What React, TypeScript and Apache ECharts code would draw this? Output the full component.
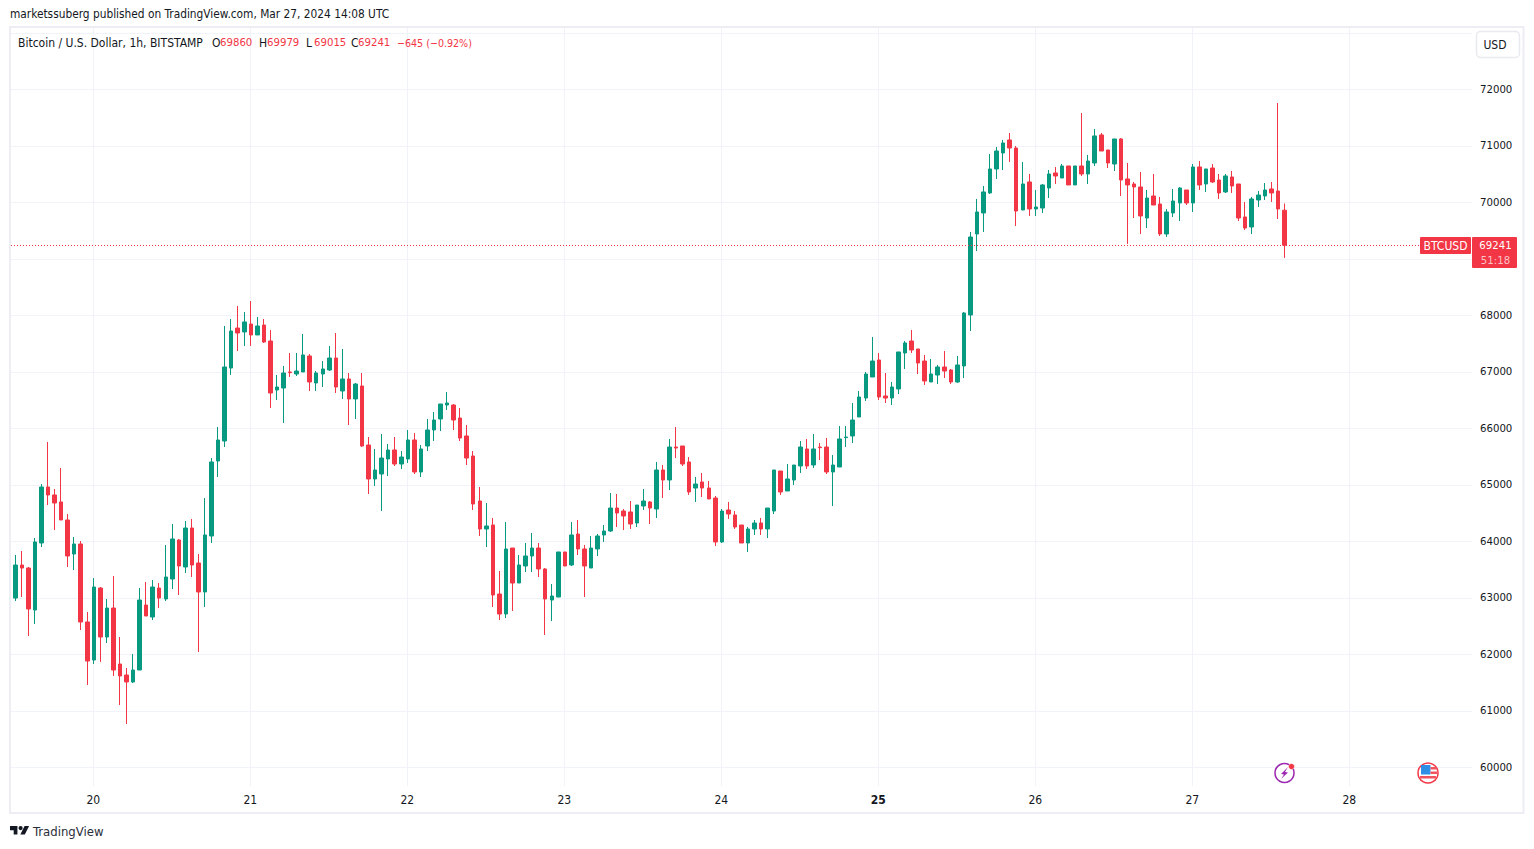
import React, { useEffect, useRef } from "react";
import * as echarts from "echarts";

// each candle: [open, close, low, high]
const mar19 = [
  [63209,62990,62990,63209],[62996,63580,62943,63757],[63580,63527,63014,63828],[63527,62802,62324,63545],
  [62784,63988,62536,64058],[63970,64961,63899,65014],[64961,64820,64642,65758],[64820,64678,64200,64926],
  [64696,64377,64377,65297],[64377,63740,63545,64483],[63775,63952,63492,64076],[63952,62572,62430,64005],
  [62572,61881,61457,62749],
];
const mar20 = [
  [61899,63191,61828,63350],[63173,62306,61864,63191],[62306,62819,62200,62979],[62819,61722,61616,63386],
  [61828,61616,61102,62306],[61633,61510,60766,61757],[61510,61722,61492,62005],[61722,62961,61722,63173],
  [62872,62678,62678,63280],[62660,63191,62607,63315],[63173,62996,62819,63262],[62979,63368,62943,63934],
  [63333,64041,63156,64306],[64023,63563,63050,64041],[63545,64235,63439,64359],[64235,63580,63368,64395],
  [63616,63103,62041,63775],[63103,64112,62837,64766],[64094,65404,63970,65474],[65421,65793,65138,66023],
  [65775,67085,65669,67811],[67067,67722,66944,67935],[67775,67687,67368,68165],[67705,67882,67457,68059],
];
const mar21 = [
  [67846,67652,67457,68253],[67652,67811,67652,67970],[67828,67528,67510,67935],[67545,66625,66359,67740],
  [66678,66731,66501,66943],[66713,66979,66094,67103],[66997,66985,66908,67333],[66961,67014,66926,67333],
  [66997,67298,66997,67669],[67280,66820,66660,67315],[66802,66979,66660,67014],[66961,67050,66731,67191],
  [67032,67244,67014,67457],[67244,66731,66625,67687],[66660,66873,66519,67404],[66873,66519,66058,66979],
  [66519,66784,66165,66802],[66749,65687,65669,66979],[65704,65103,64837,65846],[65103,65262,64979,65634],
  [65191,65474,64536,65899],[65457,65616,65156,65722],[65616,65368,65333,65846],[65368,65492,65280,65598],
];
const mar22 = [
  [65457,65793,65386,65970],[65793,65227,65191,65917],[65227,65634,65138,65704],[65687,65970,65598,66165],
  [65970,66147,65775,66289],[66165,66430,65952,66430],[66412,66448,66324,66643],[66412,66147,65970,66430],
  [66182,65828,65775,66359],[65864,65474,65350,66058],[65510,64660,64554,65598],[64713,64218,64094,64961],
  [64218,64271,63899,64678],[64288,63050,62837,64412],[63067,62713,62607,63474],[62713,63864,62642,64342],
  [63881,63262,62766,63881],[63262,63581,63262,63757],[63563,63740,63457,63970],[63740,63881,63457,64147],
  [63881,63510,63368,63970],[63510,62979,62342,63527],[62961,63032,62589,63244],[63014,63811,63014,63811],
];
const mar23 = [
  [63811,63563,63563,63811],[63581,64112,63563,64342],[64129,63864,63757,64377],[63864,63563,63014,63935],
  [63527,63881,63527,64094],[63864,64094,63740,64129],[64112,64182,63988,64288],[64182,64589,64165,64855],
  [64589,64501,64253,64837],[64536,64448,64200,64572],[64519,64306,64218,64713],[64324,64642,64253,64642],
  [64625,64713,64554,64926],[64696,64589,64306,64713],[64572,65262,64412,65404],[65262,65085,64766,65350],
  [65085,65669,64908,65811],[65669,65651,65474,66023],[65687,65368,65333,65687],[65404,64873,64820,65492],
  [64943,65014,64696,65138],[65050,64943,64784,65209],[64943,64749,64749,65067],[64766,63988,63917,64802],
];
const mar24 = [
  [63988,64536,63970,64572],[64554,64483,64395,64696],[64466,64253,64218,64536],[64288,63970,63970,64288],
  [63970,64218,63811,64253],[64218,64324,64111,64377],[64324,64218,64111,64412],[64218,64589,64058,64589],
  [64536,65262,64483,65262],[65244,64873,64820,65244],[64890,65103,64890,65368],[65085,65350,64997,65350],
  [65333,65669,65209,65775],[65634,65333,65280,65811],[65350,65634,65297,65899],[65669,65657,65439,65740],
  [65669,65227,65191,65828],[65227,65350,64625,65527],[65315,65811,65315,66041],[65835,65846,65669,66041],
  [65864,66147,65740,66448],[66200,66554,66200,66660],[66536,66961,66483,66997],[66908,67191,66908,67616],
];
const mar25 = [
  [67209,66554,66501,67333],[66572,66536,66448,66979],[66536,66731,66412,66820],[66696,67351,66607,67351],
  [67333,67510,67050,67545],[67545,67386,67333,67740],[67404,67156,66961,67404],[67191,66837,66767,67298],
  [66820,66961,66820,67227],[66943,67085,66784,67121],[67085,67014,66890,67368],[67032,66820,66784,67050],
  [66820,67121,66802,67280],[67103,68041,66890,68059],[68006,69386,67722,69475],[69439,69829,69138,70059],
  [69811,70183,69475,70289],[70165,70590,70147,70855],[70590,70908,70413,70979],[70873,71050,70572,71103],
  [71103,70961,70714,71227],[70961,69846,69581,70997],[69864,70324,69864,70714],[70360,69882,69758,70501],
];
const mar26 = [
  [69882,69917,69758,70218],[69899,70307,69811,70324],[70253,70501,70076,70572],[70519,70466,70324,70625],
  [70430,70643,70430,70678],[70643,70307,70307,70643],[70307,70643,70307,70643],[70643,70501,70466,71581],
  [70501,70731,70324,70838],[70696,71174,70643,71298],[71192,70908,70908,71227],[70926,70696,70607,70926],
  [70678,71121,70554,71121],[71121,70395,70112,71138],[70413,70307,69262,70696],[70324,70271,69722,70360],
  [70271,69758,69439,70537],[69722,70076,69545,70218],[70112,69952,69952,70501],[69970,69439,69404,70094],
  [69439,69829,69386,69882],[69811,70023,69740,70236],[69988,70253,69669,70271],[70218,69988,69952,70218],
];
const mar27 = [
  [69988,70625,69829,70678],[70625,70307,70218,70731],[70324,70590,70183,70590],[70607,70360,70342,70678],
  [70395,70165,70059,70501],[70183,70466,70165,70501],[70448,70289,70165,70554],[70324,69722,69669,70324],
  [69740,69545,69510,70006],[69563,70059,69439,70094],[70041,70129,69917,70200],[70112,70218,70041,70342],
  [70236,70165,70006,70360],[70200,69882,69705,71758],[69860,69241,69015,69979],
];

const dayLabels = ["20", "21", "22", "23", "24", "25", "26", "27", "28"];
const dayTicks = [0, 24, 48, 72, 96, 120, 144, 168, 192];
const priceTicks = [60000,61000,62000,63000,64000,65000,66000,67000,68000,69000,70000,71000,72000,73000];
const lastPrice = 69241;
const firstDayCandles = mar19.length;
const candleOffset = 0.08;

const UP = "#089981";
const DOWN = "#F23645";
const INK = "#131722";
const FONT = "'DejaVu Sans Condensed', 'Noto Sans', sans-serif";
const NUM = 11.3;

const candles = [...mar19, ...mar20, ...mar21, ...mar22, ...mar23, ...mar24, ...mar25, ...mar26, ...mar27].map(
  (c, i) => [i - firstDayCandles + candleOffset, ...c]
);

echarts.graphic.registerShape(
  "tvlogo",
  echarts.graphic.extendPath("M14 6H0v8h7v8h7V6Zm14 16h-8.5l8-16H36l-8 16ZM24 10a4 4 0 1 1-8 0a4 4 0 1 1 8 0Z", {}) as any
);

const label = (x: number, y: number, text: string, fill: string, size = 12, weight: any = "normal", align: any = "left") => ({
  type: "text",
  x,
  y,
  z: 50,
  style: { text, fill, font: `${weight} ${size}px ${FONT}`, textAlign: align, textVerticalAlign: "middle" },
});

function buildOption(): any {
  return {
    animation: false,
    backgroundColor: "#ffffff",
    grid: { left: 11, top: 28, width: 1461, height: 758, containLabel: false },
    xAxis: {
      type: "value",
      min: -12.58,
      max: 210.75,
      axisLine: { show: false },
      axisTick: { show: false, customValues: dayTicks },
      splitLine: { show: true, lineStyle: { color: "#f0f3fa", width: 1 } },
      axisLabel: {
        customValues: dayTicks,
        margin: 8,
        fontFamily: FONT,
        fontSize: 12,
        color: INK,
        formatter: (v: number) => {
          const t = dayLabels[dayTicks.indexOf(v)];
          return t === "25" ? `{b|${t}}` : t;
        },
        rich: { b: { fontWeight: "bold", fontFamily: FONT, fontSize: 12, color: INK } },
      },
    },
    yAxis: {
      type: "value",
      position: "right",
      min: 59669,
      max: 73085,
      axisLine: { show: false },
      axisTick: { show: false, customValues: priceTicks },
      splitLine: { show: true, lineStyle: { color: "#f0f3fa", width: 1 } },
      axisLabel: {
        customValues: priceTicks.filter((v) => v !== 73000 && v !== 69000),
        margin: 8,
        padding: [3, 0, 0, 0],
        fontFamily: FONT,
        fontSize: NUM,
        color: INK,
        formatter: (v: number) => String(v),
      },
    },
    series: [
      {
        type: "candlestick",
        data: candles,
        encode: { x: 0, y: [1, 2, 3, 4] },
        barWidth: 4,
        clip: true,
        itemStyle: { color: UP, color0: DOWN, borderColor: UP, borderColor0: DOWN, borderWidth: 1 },
        markLine: {
          silent: true,
          symbol: "none",
          label: { show: false },
          lineStyle: { color: DOWN, width: 1, type: [1, 2], opacity: 1 },
          data: [{ yAxis: lastPrice }],
        },
      },
    ],
    graphic: [
      { type: "rect", z: 40, shape: { x: 10, y: 27, width: 1513.5, height: 786 }, style: { fill: "none", stroke: "#eceef4", lineWidth: 2 } },
      label(10, 14, "marketssuberg published on TradingView.com, Mar 27, 2024 14:08 UTC", INK, 11.8),
      label(18, 42.5, "Bitcoin / U.S. Dollar, 1h, BITSTAMP", INK, 12),
      label(212, 42.5, "O", INK, 12),
      label(220, 42.5, "69860", DOWN, NUM),
      label(259, 42.5, "H", INK, 12),
      label(267, 42.5, "69979", DOWN, NUM),
      label(306, 42.5, "L", INK, 12),
      label(314, 42.5, "69015", DOWN, NUM),
      label(351, 42.5, "C", INK, 12),
      label(358, 42.5, "69241", DOWN, NUM),
      label(397, 42.5, "\u2212645 (\u22120.92%)", DOWN, 10.6),
      { type: "rect", z: 45, shape: { x: 1476.5, y: 31.5, width: 43, height: 26, r: 4 }, style: { fill: "#fff", stroke: "#e8eaf0", lineWidth: 1.5 } },
      label(1495, 45, "USD", INK, 12, "normal", "center"),
      { type: "rect", z: 45, shape: { x: 1420, y: 237, width: 51, height: 17, r: 1 }, style: { fill: DOWN } },
      label(1445.5, 245.5, "BTCUSD", "#ffffff", 12, "normal", "center"),
      { type: "rect", z: 45, shape: { x: 1472, y: 237, width: 45, height: 31, r: 1 }, style: { fill: DOWN } },
      label(1495.5, 245.5, "69241", "#ffffff", NUM, "normal", "center"),
      label(1495.5, 260, "51:18", "#fbc2c7", NUM, "normal", "center"),
      // lightning icon
      { type: "circle", z: 45, shape: { cx: 1284.5, cy: 773, r: 9.5 }, style: { fill: "#fff", stroke: "#9C27B0", lineWidth: 1.5 } },
      { type: "polygon", z: 46, shape: { points: [[1288, 767], [1281, 774], [1284, 774.5], [1281, 779], [1288, 772.5], [1285, 772]] }, style: { fill: "#9C27B0" } },
      { type: "circle", z: 47, shape: { cx: 1291.5, cy: 766.5, r: 3 }, style: { fill: DOWN, stroke: "#fff", lineWidth: 0.5 } },
      // US flag icon
      { type: "circle", z: 45, shape: { cx: 1428, cy: 773, r: 10 }, style: { fill: "#fff", stroke: DOWN, lineWidth: 1.5 } },
      { type: "rect", z: 46, shape: { x: 1421, y: 765, width: 9.5, height: 9.5 }, style: { fill: "#2f8fe6" } },
      { type: "rect", z: 46, shape: { x: 1430.5, y: 767, width: 6, height: 2.5 }, style: { fill: "#f0525e" } },
      { type: "rect", z: 46, shape: { x: 1430.5, y: 771.5, width: 6.5, height: 2.5 }, style: { fill: "#f0525e" } },
      { type: "rect", z: 46, shape: { x: 1420, y: 776, width: 16, height: 2.5 }, style: { fill: "#f0525e" } },
      // footer
      { type: "tvlogo", x: 10, y: 822.8, scaleX: 0.53, scaleY: 0.53, z: 50, style: { fill: "#131722" } },
      label(33, 831, "TradingView", "#2a2e39", 13),
    ],
  };
}

export default function App() {
  const ref = useRef<HTMLDivElement>(null);
  useEffect(() => {
    document.body.style.margin = "0";
    document.body.style.background = "#ffffff";
    const chart = echarts.init(ref.current!, undefined, { renderer: "svg" });
    chart.setOption(buildOption());
    return () => chart.dispose();
  }, []);
  return <div ref={ref} style={{ width: 1534, height: 849, position: "absolute", left: 0, top: 0 }} />;
}
